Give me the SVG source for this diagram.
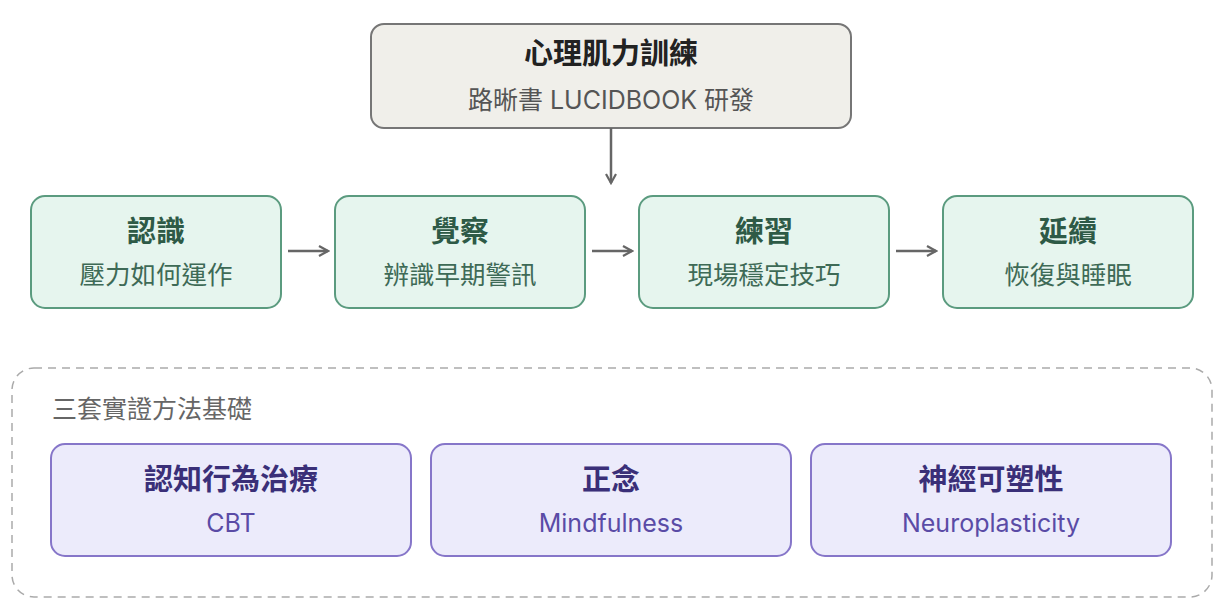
<svg xmlns="http://www.w3.org/2000/svg" width="1224" height="616" viewBox="0 0 1224 616">
<defs>
<style>
text{font-family:Inter,"Noto Sans CJK TC",sans-serif;text-anchor:middle}
.top{fill:#f0efea;stroke:#767676;stroke-width:2}
.g{fill:#e6f5ee;stroke:#5b9b7f;stroke-width:2}
.p{fill:#ecebfb;stroke:#8676c9;stroke-width:2}
.tt{font-size:29px;font-weight:700;fill:#222}
.ts{font-size:25px;fill:#555}
.gt{font-size:29px;font-weight:700;fill:#2e5a46}
.gs{font-size:25.5px;fill:#3e6a56}
.pt{font-size:29px;font-weight:700;fill:#3a2f78}
.ps{font-size:25px;fill:#5a4ba6}
.c{stroke:#666;stroke-width:2.5;fill:none}
</style>
<marker id="ah" viewBox="0 0 12 12" refX="10" refY="6" markerWidth="12" markerHeight="12" markerUnits="userSpaceOnUse" orient="auto">
<path d="M1,1 L10,6 L1,11" fill="none" stroke="#666" stroke-width="2.2"/>
</marker>
</defs>
<rect width="1224" height="616" fill="#fff"/>
<g id="foundation">
<rect x="12" y="368" width="1200" height="229" rx="22" fill="none" stroke="#aaa" stroke-width="1.5" stroke-dasharray="8 6"/>
<text x="52" y="418" style="text-anchor:start;font-size:25px;fill:#666">三套實證方法基礎</text>
</g>
<g id="top">
<rect class="top" x="371" y="24" width="480" height="104" rx="13"/>
<text class="tt" x="611" y="64">心理肌力訓練</text>
<text class="ts" x="611" y="109">路晰書 LUCIDBOOK 研發</text>
</g>
<g id="s1">
<rect class="g" x="31" y="196" width="250" height="112" rx="14"/>
<text class="gt" x="156" y="242">認識</text>
<text class="gs" x="156" y="284">壓力如何運作</text>
</g>
<g id="s2">
<rect class="g" x="335" y="196" width="250" height="112" rx="14"/>
<text class="gt" x="460" y="242">覺察</text>
<text class="gs" x="460" y="284">辨識早期警訊</text>
</g>
<g id="s3">
<rect class="g" x="639" y="196" width="250" height="112" rx="14"/>
<text class="gt" x="764" y="242">練習</text>
<text class="gs" x="764" y="284">現場穩定技巧</text>
</g>
<g id="s4">
<rect class="g" x="943" y="196" width="250" height="112" rx="14"/>
<text class="gt" x="1068" y="242">延續</text>
<text class="gs" x="1068" y="284">恢復與睡眠</text>
</g>
<g id="m1">
<rect class="p" x="51" y="444" width="360" height="112" rx="14"/>
<text class="pt" x="231" y="490">認知行為治療</text>
<text class="ps" x="231" y="532">CBT</text>
</g>
<g id="m2">
<rect class="p" x="431" y="444" width="360" height="112" rx="14"/>
<text class="pt" x="611" y="490">正念</text>
<text class="ps" x="611" y="532">Mindfulness</text>
</g>
<g id="m3">
<rect class="p" x="811" y="444" width="360" height="112" rx="14"/>
<text class="pt" x="991" y="490">神經可塑性</text>
<text class="ps" x="991" y="532">Neuroplasticity</text>
</g>
<g id="connectors">
<line class="c" x1="611" y1="128" x2="611" y2="183" marker-end="url(#ah)"/>
<line class="c" x1="288" y1="251" x2="328" y2="251" marker-end="url(#ah)"/>
<line class="c" x1="592" y1="251" x2="632" y2="251" marker-end="url(#ah)"/>
<line class="c" x1="896" y1="251" x2="936" y2="251" marker-end="url(#ah)"/>
</g>
</svg>
